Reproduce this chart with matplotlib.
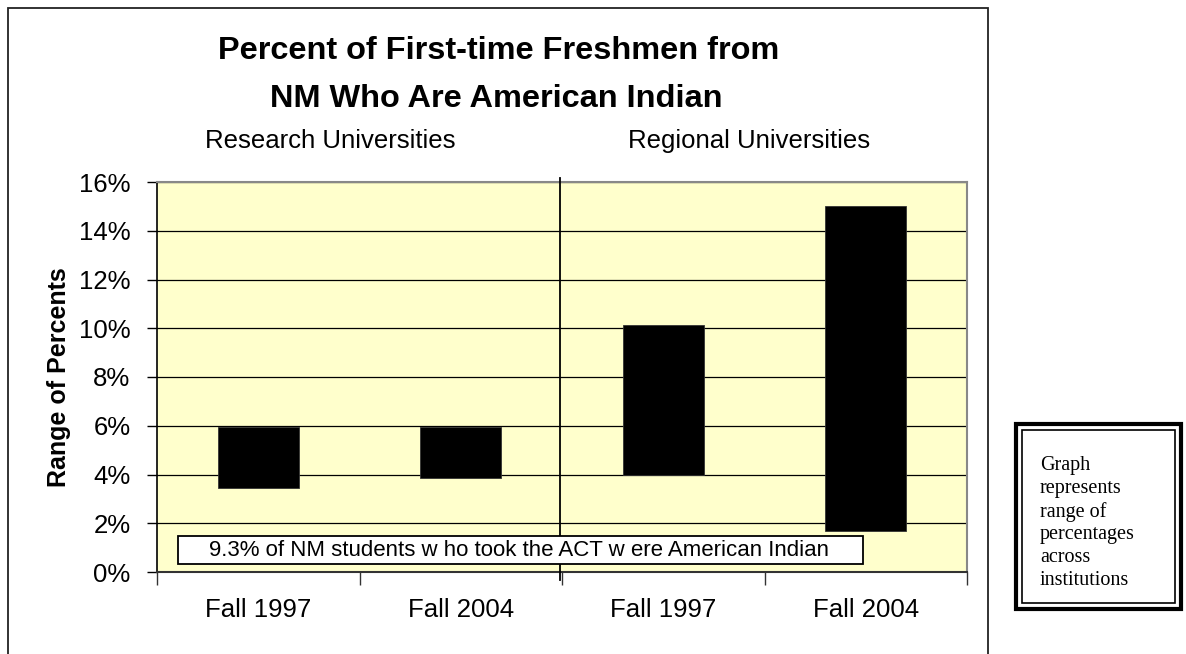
import numpy as np
import matplotlib
matplotlib.use("Agg")
import matplotlib.pyplot as plt
from matplotlib.patches import Rectangle

plt.rcParams['font.family'] = ['Liberation Sans', 'DejaVu Sans']

# data
labels = ['Fall 1997', 'Fall 2004', 'Fall 1997', 'Fall 2004']
groups = ['Research Universities', 'Regional Universities']
low = [3.45, 3.85, 4.0, 1.7]
high = [5.95, 5.95, 10.15, 15.0]
yticks = [0, 2, 4, 6, 8, 10, 12, 14, 16]
note = '9.3% of NM students w ho took the ACT w ere American Indian'
side_note = 'Graph\nrepresents\nrange of\npercentages\nacross\ninstitutions'

W, H = 1186, 654
fig = plt.figure(figsize=(W / 100, H / 100), dpi=100)

def fx(px):
    return px / W

def fy(py):
    return 1 - py / H

# outer chart frame
fig.patches.append(Rectangle((fx(8), fy(660)), fx(988) - fx(8), fy(8) - fy(660),
                             transform=fig.transFigure, fill=False,
                             edgecolor='#222222', lw=1.3))

ax = fig.add_axes([fx(157), fy(572), fx(967) - fx(157), fy(182) - fy(572)])
ax.set_facecolor('#ffffcc')

x = np.arange(len(labels))
ax.bar(x, np.array(high) - np.array(low), bottom=low, width=0.4,
       color='black', edgecolor='#333333', lw=0.6, zorder=3)

ax.set_xlim(-0.5, 3.5)
ax.set_ylim(0, 16)
ax.set_yticks(yticks)
ax.set_yticklabels([f'{v}%' for v in yticks], fontsize=18.5)
ax.yaxis.grid(True, color='black', lw=0.9)
ax.set_axisbelow(True)

ax.set_xticks([-0.5, 0.5, 1.5, 2.5, 3.5])
ax.set_xticklabels([])
ax.tick_params(axis='x', direction='out', length=9, width=1, color='#333333')
ax.tick_params(axis='y', direction='out', length=7, width=1, pad=12)
for i, lab in enumerate(labels):
    ax.text(i, -1.55, lab, ha='center', va='center', fontsize=18.5)

for s in ['top', 'right']:
    ax.spines[s].set_color('#888888')
    ax.spines[s].set_linewidth(1.5)
ax.spines['left'].set_linewidth(1.2)
ax.spines['bottom'].set_linewidth(1.5)
ax.spines['bottom'].set_color('#333333')

# divider between university groups
ax.plot([1.49, 1.49], [-0.33, 16.15], color='black', lw=1.3, clip_on=False, zorder=4)

# note box
ax.add_patch(Rectangle((-0.396, 0.33), 3.382, 1.15, facecolor='white',
                       edgecolor='black', lw=1.3, zorder=5))
ax.text(1.29, 0.9, note, ha='center', va='center', fontsize=16, zorder=6)

ax.set_ylabel('Range of Percents', fontsize=18, fontweight='bold', labelpad=6)

fig.text(fx(499), fy(51), 'Percent of First-time Freshmen from', ha='center',
         va='center', fontsize=23.4, fontweight='bold')
fig.text(fx(496), fy(99), 'NM Who Are American Indian', ha='center',
         va='center', fontsize=23.4, fontweight='bold')
fig.text(fx(330), fy(141), groups[0], ha='center', va='center', fontsize=18.5)
fig.text(fx(749), fy(141), groups[1], ha='center', va='center', fontsize=18.5)

# side box with double border
fig.patches.append(Rectangle((fx(1016), fy(609)), fx(1181) - fx(1016), fy(424) - fy(609),
                             transform=fig.transFigure, fill=False,
                             edgecolor='black', lw=3))
fig.patches.append(Rectangle((fx(1022), fy(603)), fx(1175) - fx(1022), fy(430) - fy(603),
                             transform=fig.transFigure, fill=False,
                             edgecolor='black', lw=1.2))
fig.text(fx(1040), fy(456), side_note, ha='left', va='top', fontsize=14.5,
         family=['Liberation Serif', 'DejaVu Serif'], linespacing=1.27)

fig.savefig('out.png', dpi=100)
